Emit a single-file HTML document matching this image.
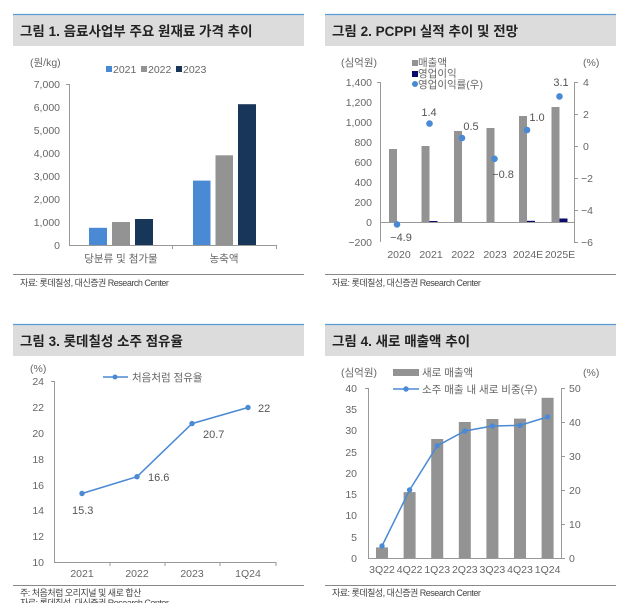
<!DOCTYPE html>
<html><head><meta charset="utf-8"><style>
body{margin:0;background:#fff;}
svg{display:block;font-family:"Liberation Sans","Noto Sans CJK KR",sans-serif;}
.t{font-size:13.5px;font-weight:bold;fill:#222;}
.a{font-size:10.5px;fill:#666;}
.s{font-size:9px;fill:#444;letter-spacing:-0.5px;}
.l{font-size:11px;fill:#555;}
</style></head><body>
<svg width="622" height="603" viewBox="0 0 622 603">
<!-- headers -->
<rect x="13" y="14" width="291" height="32" fill="#dcdcdc"/><line x1="13" y1="14.5" x2="304" y2="14.5" stroke="#5b9bd5" stroke-width="1.2"/>
<rect x="325" y="14" width="291" height="32" fill="#dcdcdc"/><line x1="325" y1="14.5" x2="616" y2="14.5" stroke="#5b9bd5" stroke-width="1.2"/>
<rect x="13" y="324" width="291" height="32" fill="#dcdcdc"/><line x1="13" y1="324.5" x2="304" y2="324.5" stroke="#5b9bd5" stroke-width="1.2"/>
<rect x="325" y="324" width="291" height="32" fill="#dcdcdc"/><line x1="325" y1="324.5" x2="616" y2="324.5" stroke="#5b9bd5" stroke-width="1.2"/>
<text class="t" x="20" y="36">그림 1. 음료사업부 주요 원재료 가격 추이</text>
<text class="t" x="332" y="36">그림 2. PCPPI 실적 추이 및 전망</text>
<text class="t" x="20" y="346">그림 3. 롯데칠성 소주 점유율</text>
<text class="t" x="332" y="346">그림 4. 새로 매출액 추이</text>
<!-- bottom lines -->
<g stroke="#888" stroke-width="1"><line x1="13" y1="274.5" x2="304" y2="274.5"/><line x1="325" y1="274.5" x2="616" y2="274.5"/><line x1="13" y1="585.5" x2="304" y2="585.5"/><line x1="325" y1="585.5" x2="616" y2="585.5"/></g>
<text class="s" x="20" y="286">자료: 롯데칠성, 대신증권 Research Center</text>
<text class="s" x="332" y="286">자료: 롯데칠성, 대신증권 Research Center</text>
<text class="s" x="20" y="596">주: 처음처럼 오리지널 및 새로 합산</text>
<text class="s" x="20" y="606">자료: 롯데칠성, 대신증권 Research Center</text>
<text class="s" x="332" y="596">자료: 롯데칠성, 대신증권 Research Center</text>

<!-- Chart 1 -->
<text class="a" x="30" y="66">(원/kg)</text>
<rect x="106" y="66" width="6" height="6" fill="#4a8ad4"/><text class="a" x="113" y="73">2021</text>
<rect x="141" y="66" width="6" height="6" fill="#939393"/><text class="a" x="148" y="73">2022</text>
<rect x="176" y="66" width="6" height="6" fill="#18355a"/><text class="a" x="183" y="73">2023</text>
<g class="a" text-anchor="end"><text x="60" y="88">7,000</text><text x="60" y="111">6,000</text><text x="60" y="134">5,000</text><text x="60" y="157">4,000</text><text x="60" y="180">3,000</text><text x="60" y="203">2,000</text><text x="60" y="226">1,000</text><text x="60" y="249">0</text></g>
<g stroke="#999"><line x1="69.5" y1="84" x2="69.5" y2="245"/><line x1="69" y1="245.5" x2="276" y2="245.5"/><line x1="172.5" y1="245" x2="172.5" y2="249"/><line x1="276.5" y1="245" x2="276.5" y2="249"/><line x1="66" y1="84.5" x2="69" y2="84.5"/></g>
<rect x="89" y="227.8" width="18" height="17.2" fill="#4a8ad4"/>
<rect x="112" y="222" width="18" height="23" fill="#939393"/>
<rect x="135" y="219" width="18" height="26" fill="#18355a"/>
<rect x="193" y="180.6" width="17.5" height="64.4" fill="#4a8ad4"/>
<rect x="215.5" y="155.3" width="17.5" height="89.7" fill="#939393"/>
<rect x="238" y="104.2" width="18" height="140.8" fill="#18355a"/>
<text class="a" x="121" y="262" text-anchor="middle">당분류 및 첨가물</text>
<text class="a" x="224" y="262" text-anchor="middle">농축액</text>

<!-- Chart 2 -->
<text class="a" x="341" y="66">(심억원)</text><text class="a" x="583" y="66">(%)</text>
<rect x="412" y="60" width="6" height="6" fill="#939393"/><text class="a" x="418" y="66">매출액</text>
<rect x="412" y="71" width="6" height="6" fill="#0b0b6e"/><text class="a" x="418" y="77">영업이익</text>
<circle cx="415" cy="84" r="3" fill="#4a8ad4"/><text class="a" x="418" y="88">영업이익률(우)</text>
<g class="a" text-anchor="end"><text x="372" y="86">1,400</text><text x="372" y="106">1,200</text><text x="372" y="126">1,000</text><text x="372" y="146">800</text><text x="372" y="166">600</text><text x="372" y="186">400</text><text x="372" y="206">200</text><text x="372" y="226">0</text><text x="372" y="246">−200</text></g>
<g class="a"><text x="583" y="86">4</text><text x="583" y="118">2</text><text x="583" y="150">0</text><text x="581" y="182">−2</text><text x="581" y="214">−4</text><text x="581" y="246">−6</text></g>
<g stroke="#999"><line x1="380.5" y1="82" x2="380.5" y2="242"/><line x1="574.5" y1="82" x2="574.5" y2="242"/><line x1="380" y1="222.5" x2="574" y2="222.5"/>
<line x1="574" y1="82.5" x2="578" y2="82.5"/><line x1="574" y1="114.5" x2="578" y2="114.5"/><line x1="574" y1="146.5" x2="578" y2="146.5"/><line x1="574" y1="178.5" x2="578" y2="178.5"/><line x1="574" y1="210.5" x2="578" y2="210.5"/><line x1="574" y1="242.5" x2="578" y2="242.5"/><line x1="377" y1="82.5" x2="380" y2="82.5"/></g>
<g fill="#939393"><rect x="389" y="149" width="8" height="73"/><rect x="421.5" y="146" width="8" height="76"/><rect x="454" y="131" width="8" height="91"/><rect x="486.5" y="128" width="8" height="94"/><rect x="519" y="116" width="8" height="106"/><rect x="551.5" y="107" width="8" height="115"/></g>
<g fill="#0b0b6e"><rect x="429.5" y="221" width="8" height="1"/><rect x="527" y="220.8" width="8" height="1.2"/><rect x="559.5" y="218.5" width="8" height="3.5"/></g>
<g fill="#4a8ad4"><circle cx="397" cy="224.4" r="3.3"/><circle cx="429.5" cy="123.6" r="3.3"/><circle cx="462" cy="138" r="3.3"/><circle cx="494.5" cy="158.8" r="3.3"/><circle cx="527" cy="130" r="3.3"/><circle cx="559.5" cy="96.4" r="3.3"/></g>
<g class="l" text-anchor="middle"><text x="401" y="241">−4.9</text><text x="429" y="116">1.4</text><text x="471" y="130">0.5</text><text x="503" y="178">−0.8</text><text x="537" y="121">1.0</text><text x="561" y="86">3.1</text></g>
<g class="a" text-anchor="middle"><text x="399" y="258">2020</text><text x="431" y="258">2021</text><text x="463" y="258">2022</text><text x="495" y="258">2023</text><text x="528" y="258">2024E</text><text x="560" y="258">2025E</text></g>

<!-- Chart 3 -->
<text class="a" x="30" y="372">(%)</text>
<line x1="103" y1="377" x2="128" y2="377" stroke="#4a8ad4" stroke-width="1.5"/><circle cx="115" cy="377" r="2.5" fill="#4a8ad4"/>
<text class="a" x="132" y="381">처음처럼 점유율</text>
<g class="a" text-anchor="end"><text x="44" y="385">24</text><text x="44" y="411">22</text><text x="44" y="437">20</text><text x="44" y="463">18</text><text x="44" y="489">16</text><text x="44" y="514">14</text><text x="44" y="540">12</text><text x="44" y="566">10</text></g>
<g stroke="#999"><line x1="54.5" y1="381" x2="54.5" y2="562"/><line x1="54" y1="562.5" x2="276" y2="562.5"/><line x1="51" y1="381.5" x2="54" y2="381.5"/><line x1="110" y1="562" x2="110" y2="566"/><line x1="165" y1="562" x2="165" y2="566"/><line x1="220" y1="562" x2="220" y2="566"/><line x1="276" y1="562" x2="276" y2="566"/></g>
<polyline points="82,493.5 137,476.7 192,423.6 248,407.5" fill="none" stroke="#4a8ad4" stroke-width="1.5"/>
<g fill="#4a8ad4"><circle cx="82" cy="493.5" r="2.7"/><circle cx="137" cy="476.7" r="2.7"/><circle cx="192" cy="423.6" r="2.7"/><circle cx="248" cy="407.5" r="2.7"/></g>
<g class="l"><text x="72" y="514">15.3</text><text x="148" y="481">16.6</text><text x="203" y="438">20.7</text><text x="258" y="412">22</text></g>
<g class="a" text-anchor="middle"><text x="82" y="577">2021</text><text x="137" y="577">2022</text><text x="192" y="577">2023</text><text x="248" y="577">1Q24</text></g>

<!-- Chart 4 -->
<text class="a" x="341" y="376">(심억원)</text><text class="a" x="583" y="376">(%)</text>
<rect x="393" y="369" width="26" height="7" fill="#939393"/><text class="a" x="422" y="376">새로 매출액</text>
<line x1="393" y1="389" x2="419" y2="389" stroke="#4a8ad4" stroke-width="1.5"/><circle cx="406" cy="389" r="2.7" fill="#4a8ad4"/>
<text class="a" x="422" y="393">소주 매출 내 새로 비중(우)</text>
<g class="a" text-anchor="end"><text x="357" y="392">40</text><text x="357" y="413">35</text><text x="357" y="434">30</text><text x="357" y="456">25</text><text x="357" y="477">20</text><text x="357" y="498">15</text><text x="357" y="519">10</text><text x="357" y="541">5</text><text x="357" y="562">0</text></g>
<g class="a"><text x="569" y="392">50</text><text x="569" y="426">40</text><text x="569" y="460">30</text><text x="569" y="494">20</text><text x="569" y="528">10</text><text x="569" y="562">0</text></g>
<g stroke="#999"><line x1="368.5" y1="388" x2="368.5" y2="558"/><line x1="561.5" y1="388" x2="561.5" y2="558"/><line x1="368" y1="558.5" x2="561" y2="558.5"/><line x1="365" y1="388.5" x2="368" y2="388.5"/>
<line x1="561" y1="388.5" x2="565" y2="388.5"/><line x1="561" y1="422.5" x2="565" y2="422.5"/><line x1="561" y1="456.5" x2="565" y2="456.5"/><line x1="561" y1="490.5" x2="565" y2="490.5"/><line x1="561" y1="524.5" x2="565" y2="524.5"/><line x1="561" y1="558.5" x2="565" y2="558.5"/></g>
<g fill="#939393"><rect x="376" y="547.4" width="12" height="10.6"/><rect x="403.6" y="492.1" width="12" height="65.9"/><rect x="431.2" y="439" width="12" height="119"/><rect x="458.8" y="422" width="12" height="136"/><rect x="486.4" y="419" width="12" height="139"/><rect x="514" y="418.6" width="12" height="139.4"/><rect x="541.6" y="397.8" width="12" height="160.2"/></g>
<polyline points="382,546 409.6,490 437.2,445.8 464.8,431 492.4,426 520,425.4 547.6,416.9" fill="none" stroke="#4a8ad4" stroke-width="1.5"/>
<g fill="#4a8ad4"><circle cx="382" cy="546" r="2.7"/><circle cx="409.6" cy="490" r="2.7"/><circle cx="437.2" cy="445.8" r="2.7"/><circle cx="464.8" cy="431" r="2.7"/><circle cx="492.4" cy="426" r="2.7"/><circle cx="520" cy="425.4" r="2.7"/><circle cx="547.6" cy="416.9" r="2.7"/></g>
<g class="a" text-anchor="middle"><text x="382" y="573">3Q22</text><text x="409.6" y="573">4Q22</text><text x="437.2" y="573">1Q23</text><text x="464.8" y="573">2Q23</text><text x="492.4" y="573">3Q23</text><text x="520" y="573">4Q23</text><text x="547.6" y="573">1Q24</text></g>
</svg>
</body></html>
